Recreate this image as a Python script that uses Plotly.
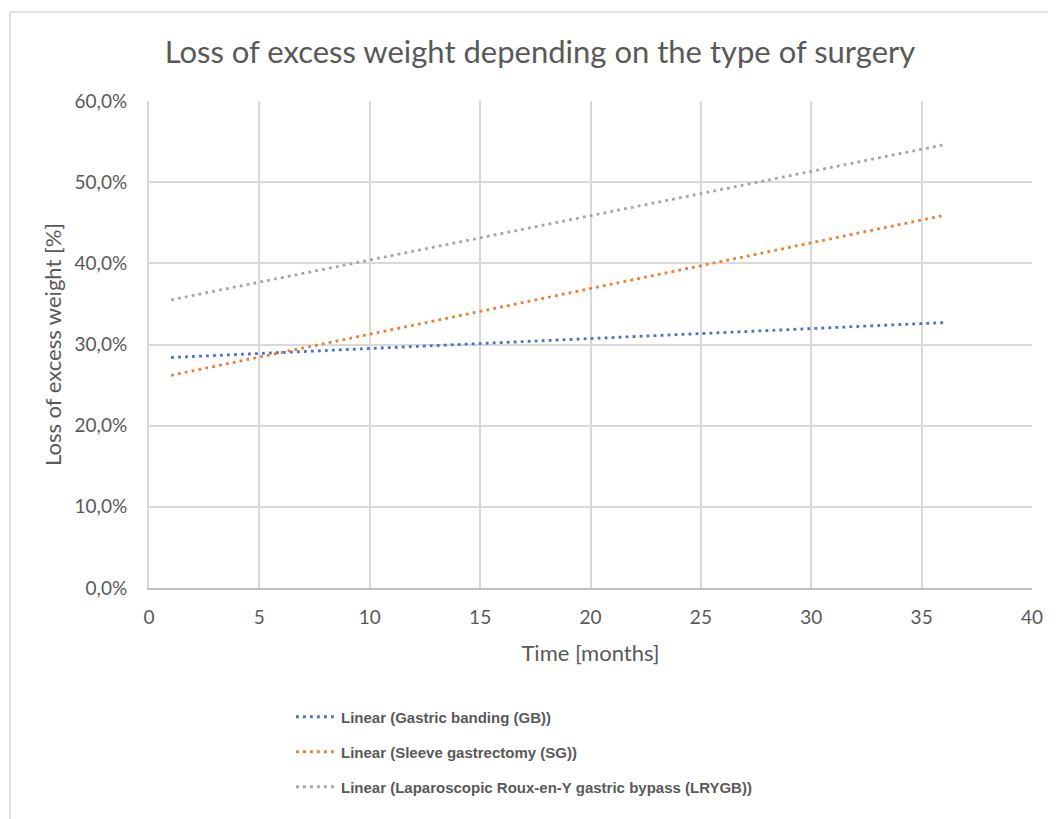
import plotly.graph_objects as go

# Data (trendline endpoints)
months = [1, 36]
gb = [0.284, 0.327]
sg = [0.262, 0.459]
lrygb = [0.355, 0.546]

names = [
    "Linear (Gastric banding (GB))",
    "Linear (Sleeve gastrectomy (SG))",
    "Linear (Laparoscopic Roux-en-Y gastric bypass (LRYGB))",
]
colors = ["#4472C4", "#ED7D31", "#A5A5A5"]
x_ticks = [0, 5, 10, 15, 20, 25, 30, 35, 40]
y_ticks = [0, 0.1, 0.2, 0.3, 0.4, 0.5, 0.6]

OFF = 8  # page body margin
W, H = 1056 - OFF, 819 - OFF
# plot area in screen pixels
SL, SR, ST, SB = 149, 1032, 101, 588
L, R, T, B = SL - OFF, SR - OFF, ST - OFF, SB - OFF


def px_x(sx):
    return (sx - SL) / (SR - SL)


def px_y(sy):
    return (SB - sy) / (SB - ST)


fig = go.Figure()
legend_ids = ["legend", "legend2", "legend3"]
legend_ys = [717, 752, 787]
for name, ys, c, lid in zip(names, [gb, sg, lrygb], colors, legend_ids):
    fig.add_trace(go.Scatter(
        x=months, y=ys, mode="lines", name=name, legend=lid,
        line=dict(color=c, width=2.8, dash="2.8px,4.2px"),
    ))

legend_font = dict(family="Liberation Sans, Arial, sans-serif", size=15,
                   color="#595959", weight="bold")
legends = {}
for lid, sy in zip(legend_ids, legend_ys):
    legends[lid] = dict(
        x=px_x(291), xanchor="left", y=px_y(sy), yanchor="middle",
        bgcolor="rgba(0,0,0,0)", font=legend_font, itemwidth=40,
    )

axis_font = dict(family="Lato, sans-serif", size=19, color="#595959")
title_font = dict(family="Lato, sans-serif", size=22, color="#595959")

fig.update_layout(
    width=W, height=H,
    margin=dict(l=L, r=W - R, t=T, b=H - B),
    paper_bgcolor="white", plot_bgcolor="white",
    separators=",.",
    title=dict(
        text="Loss of excess weight depending on the type of surgery",
        x=(540 - OFF) / W, xref="container", xanchor="center",
        y=1 - (52 - OFF) / H, yref="container", yanchor="middle",
        font=dict(family="Lato, Open Sans, sans-serif", size=31, color="#595959"),
    ),
    xaxis=dict(
        range=[0, 40], tickvals=x_ticks, showgrid=True, gridcolor="#D9D9D9", gridwidth=2,
        zeroline=False, showline=True, linecolor="#BFBFBF", linewidth=2,
        ticks="", ticklabelstandoff=11,
        tickfont=axis_font,
        title=dict(text="Time [months]", standoff=19, font=title_font),
    ),
    yaxis=dict(
        range=[0, 0.6], tickvals=y_ticks, tickformat=".1%", showgrid=True,
        gridcolor="#D9D9D9", gridwidth=2,
        zeroline=False, showline=True, linecolor="#D9D9D9", linewidth=2,
        ticks="", ticklabelstandoff=16,
        tickfont=axis_font,
        title=dict(text="Loss of excess weight [%]", standoff=7, font=title_font),
    ),
    showlegend=True,
    shapes=[
        dict(type="line", xref="paper", yref="paper",
             x0=px_x(10), x1=px_x(1080), y0=px_y(12), y1=px_y(12),
             line=dict(color="#D9D9D9", width=1.5)),
        dict(type="line", xref="paper", yref="paper",
             x0=px_x(10), x1=px_x(10), y0=px_y(12), y1=px_y(840),
             line=dict(color="#D9D9D9", width=1.5)),
    ],
    **legends,
)

fig.write_html("out.html")
